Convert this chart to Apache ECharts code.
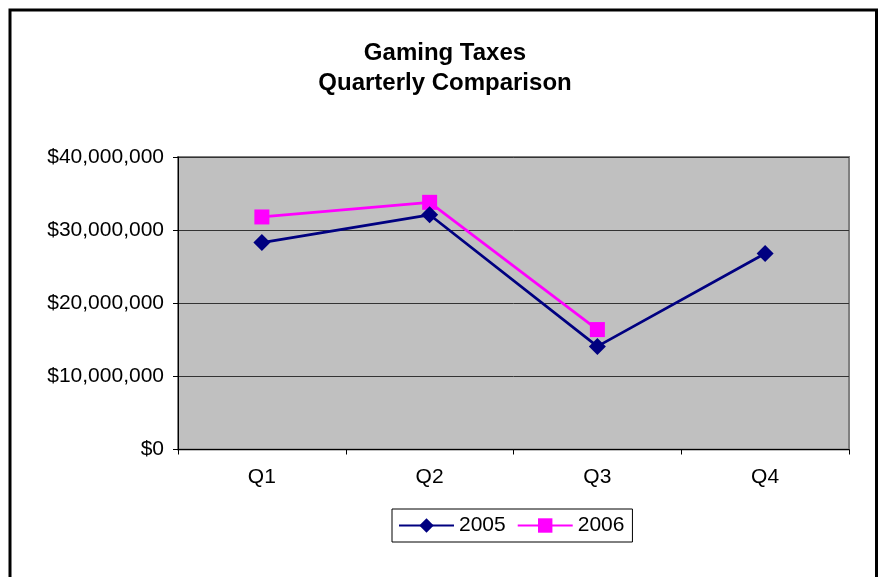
<!DOCTYPE html>
<html>
<head>
<meta charset="utf-8">
<title>Gaming Taxes Quarterly Comparison</title>
<script src="https://cdn.jsdelivr.net/npm/echarts@6/dist/echarts.min.js"></script>
<style>
  html, body { margin: 0; padding: 0; background: #fff; }
  #chart { width: 880px; height: 577px; }
</style>
</head>
<body>
<div id="chart"></div>
<script>
// Quarterly gaming tax collections, in dollars
const quarters = ['Q1', 'Q2', 'Q3', 'Q4'];
const taxes2005 = [28300000, 32100000, 14100000, 26800000];
const taxes2006 = [31800000, 33800000, 16400000, null];
const yTicks = [0, 10000000, 20000000, 30000000, 40000000];

const FONT = '"Liberation Sans", Arial, sans-serif';

function dollars(v) {
  return '$' + String(Math.round(v)).replace(/\B(?=(\d{3})+(?!\d))/g, ',');
}

const chart = echarts.init(document.getElementById('chart'), null, { renderer: 'canvas' });

chart.setOption({
  backgroundColor: '#fff',
  animation: false,
  textStyle: { fontFamily: FONT },
  title: {
    text: 'Gaming Taxes\nQuarterly Comparison',
    left: 445,
    textAlign: 'center',
    top: 38,
    padding: 0,
    textStyle: {
      fontFamily: FONT,
      fontSize: 24,
      fontWeight: 'bold',
      color: '#000',
      lineHeight: 30
    }
  },
  graphic: [{
    type: 'rect',
    silent: true,
    z: 100,
    shape: { x: 10, y: 10, width: 866.5, height: 620 },
    style: { fill: 'none', stroke: '#000', lineWidth: 3 }
  }],
  legend: {
    data: ['2005', '2006'],
    left: 392,
    top: 509,
    orient: 'horizontal',
    padding: [6, 8, 6, 6],
    itemGap: 11,
    itemWidth: 55,
    itemHeight: 18,
    borderColor: '#000',
    borderWidth: 1,
    backgroundColor: '#fff',
    textStyle: { fontFamily: FONT, fontSize: 21, color: '#000' }
  },
  grid: {
    show: true,
    left: 178,
    top: 157,
    right: 31,
    bottom: 127.5,
    backgroundColor: '#C0C0C0',
    borderColor: '#808080',
    borderWidth: 2,
    containLabel: false
  },
  xAxis: {
    type: 'category',
    data: quarters,
    boundaryGap: true,
    axisLine: { show: true, lineStyle: { color: '#000', width: 1 } },
    axisTick: { show: true, length: 5, inside: false, lineStyle: { color: '#000' } },
    axisLabel: { color: '#000', fontFamily: FONT, fontSize: 21, margin: 17 },
    splitLine: { show: false }
  },
  yAxis: {
    type: 'value',
    min: yTicks[0],
    max: yTicks[yTicks.length - 1],
    interval: yTicks[1] - yTicks[0],
    axisLine: { show: true, lineStyle: { color: '#000', width: 1 } },
    axisTick: { show: true, length: 5, inside: false, lineStyle: { color: '#000' } },
    axisLabel: {
      color: '#000',
      fontFamily: FONT,
      fontSize: 21,
      margin: 14,
      formatter: dollars
    },
    splitLine: { show: true, lineStyle: { color: '#333', width: 1 } }
  },
  series: [
    {
      name: '2005',
      type: 'line',
      data: taxes2005,
      symbol: 'diamond',
      symbolSize: 17,
      color: '#000080',
      lineStyle: { color: '#000080', width: 2.75 },
      itemStyle: { color: '#000080' },
      z: 3
    },
    {
      name: '2006',
      type: 'line',
      data: taxes2006,
      symbol: 'rect',
      symbolSize: 15,
      color: '#FF00FF',
      lineStyle: { color: '#FF00FF', width: 2.75 },
      itemStyle: { color: '#FF00FF' },
      z: 2
    }
  ]
});
</script>
</body>
</html>
